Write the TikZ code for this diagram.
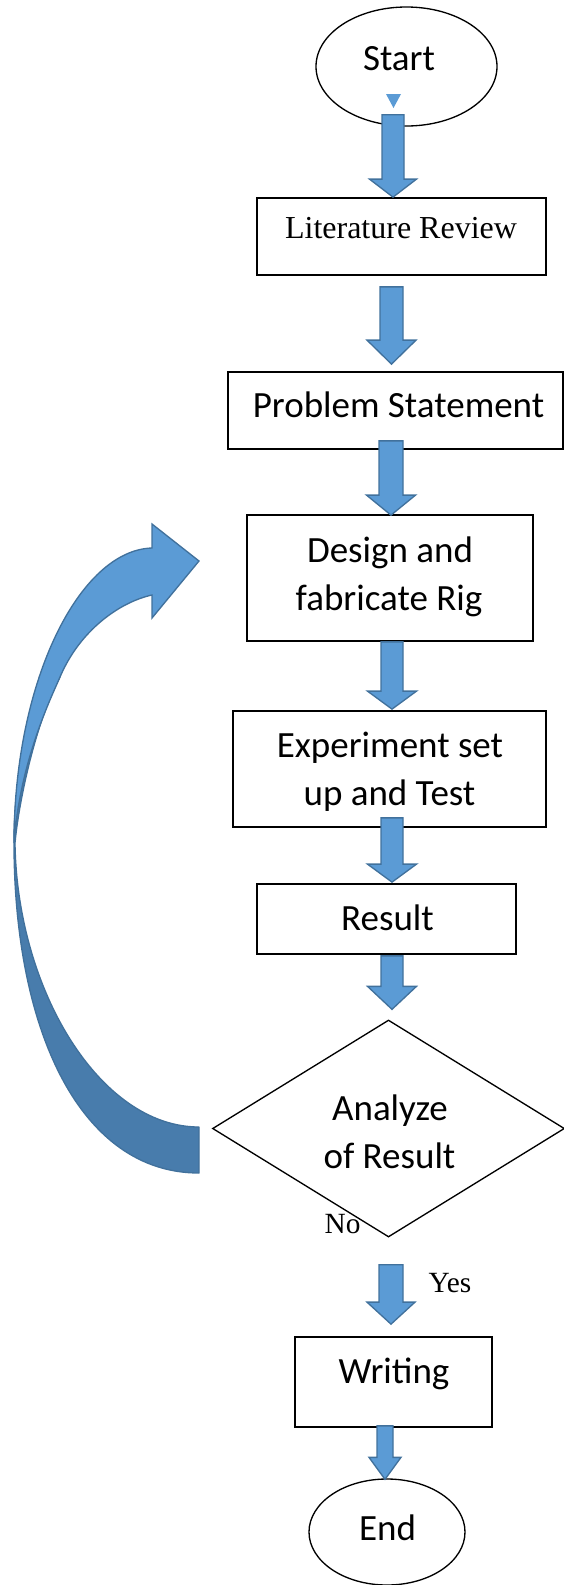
\documentclass[tikz,border=0pt]{standalone}
\usepackage{fontspec}
\setmainfont{Carlito}
\newfontfamily\serifface{Liberation Serif}
\usetikzlibrary{shapes.geometric,calc}

\definecolor{arrowfill}{RGB}{91,155,213}
\definecolor{arrowedge}{RGB}{65,113,156}
\definecolor{arrowback}{RGB}{72,124,172}

% one drawing unit = one pixel of the layout grid
\newcommand\pxu{0.75pt}

% vertical block arrow: #1 start point, #2 point whose height is the tip,
% #3 shaft half width, #4 head half width, #5 head length (all in pixels)
\newcommand\fatarrow[5]{%
  \path[blockarrow] let \p1=#1, \p2=#2 in
    ({\x1-#3*\pxu},\y1) -- ({\x1-#3*\pxu},{\y2+#5*\pxu})
    -- ({\x1-#4*\pxu},{\y2+#5*\pxu}) -- (\x1,\y2)
    -- ({\x1+#4*\pxu},{\y2+#5*\pxu}) -- ({\x1+#3*\pxu},{\y2+#5*\pxu})
    -- ({\x1+#3*\pxu},\y1) -- cycle;}

\begin{document}
\begin{tikzpicture}[x=0.75pt,y=-0.75pt,
  box/.style={draw=black, line width=1.3pt, rectangle, inner sep=0pt},
  terminal/.style={draw=black, line width=1pt, ellipse, inner sep=0pt},
  decision/.style={draw=black, line width=1pt, diamond, inner sep=0pt},
  flowtext/.style={font=\fontsize{27.75}{33}\selectfont, anchor=base, inner sep=0pt},
  seriftext/.style={font=\serifface\fontsize{24}{28}\selectfont, anchor=base, inner sep=0pt},
  branchtext/.style={font=\serifface\fontsize{22}{26}\selectfont, anchor=base, inner sep=0pt},
  blockarrow/.style={fill=arrowfill, draw=arrowedge, line width=1pt, line join=miter},
]
\useasboundingbox (0,0) rectangle (564,1585);

% ---------- shapes ----------
\node[terminal, minimum width=181*\pxu, minimum height=119*\pxu] (start) at (406.5,66.5) {};
\node[box, minimum width=289*\pxu, minimum height=77*\pxu]  (lit)    at (401.5,236.5) {};
\node[box, minimum width=335*\pxu, minimum height=77*\pxu]  (prob)   at (395.5,410.5) {};
\node[box, minimum width=286*\pxu, minimum height=126*\pxu] (design) at (390,578) {};
\node[box, minimum width=313*\pxu, minimum height=116*\pxu] (exper)  at (389.5,769) {};
\node[box, minimum width=259*\pxu, minimum height=70*\pxu]  (result) at (386.5,919) {};
\node[decision, minimum width=352*\pxu, minimum height=217*\pxu] (analyze) at (388.5,1128.5) {};
\node[box, minimum width=197*\pxu, minimum height=90*\pxu]  (writing) at (393.5,1382) {};
\node[terminal, minimum width=156*\pxu, minimum height=106*\pxu] (finish) at (387,1532) {};

% ---------- texts ----------
\node[flowtext]  (t-start)  at (399,70)    {Start};
\node[seriftext] (t-lit)    at (401,238)   {Literature Review};
\node[flowtext]  (t-prob)   at (398.5,417) {Problem Statement};
\node[flowtext]  (t-des1)   at (390,562)   {Design and};
\node[flowtext]  (t-des2)   at (389,610)   {fabricate Rig};
\node[flowtext]  (t-exp1)   at (390,757)   {Experiment set};
\node[flowtext]  (t-exp2)   at (389.5,805) {up and Test};
\node[flowtext]  (t-res)    at (387.5,930) {Result};
\node[flowtext]  (t-ana1)   at (390,1120)  {Analyze};
\node[flowtext]  (t-ana2)   at (389.5,1168) {of Result};
\node[flowtext]  (t-wri)    at (394,1383)  {Writing};
\node[flowtext]  (t-end)    at (387.5,1540) {End};
\node[branchtext] (t-no)    at (342.5,1233) {No};
\node[branchtext] (t-yes)   at (450,1292)  {Yes};

% small marker under the start text
\fill[arrowfill] (386,94) -- (401,94) -- (393.5,108) -- cycle;

% ---------- block arrows between the steps ----------
\fatarrow{($(start.south)+(-13.5,-12)$)}{(lit.north)}{11}{23.5}{18}
\fatarrow{($(lit.south)+(-10,11)$)}{($(prob.north)+(0,-7)$)}{11.5}{24.5}{24}
\fatarrow{($(prob.south)+(-4.5,-9)$)}{($(design.north)+(0,1)$)}{12}{24.5}{20}
\fatarrow{($(design.south)+(2,0)$)}{($(exper.north)+(0,-1)$)}{11}{24.5}{18}
\fatarrow{($(exper.south)+(2.5,-10)$)}{($(result.north)+(0,-1)$)}{11}{24.5}{18}
\fatarrow{($(result.south)+(5.5,1)$)}{($(analyze.north)+(0,-10)$)}{11}{24.5}{23}
\fatarrow{($(analyze.south)+(2.5,27)$)}{($(writing.north)+(0,-12)$)}{12}{24}{22}
\fatarrow{($(writing.south)+(-8.5,-2)$)}{($(finish.north)+(0,1)$)}{8}{16}{22}

% ---------- curved return arrow (No branch back to the design step) ----------
% rear, darker band
\path[fill=arrowback, draw=arrowedge, line width=1pt, line join=round]
  (60,677) .. controls (40,712) and (20,790) .. (15,843)
  .. controls (17,990) and (100,1127) .. (199,1127)
  -- (199,1173)
  .. controls (80,1173) and (14,1030) .. (14,843)
  .. controls (14,760) and (36,694) .. (60,677) -- cycle;
% front band with the arrow head
\path[fill=arrowfill, draw=arrowedge, line width=1pt, line join=miter]
  (152,548) .. controls (80,550) and (14,680) .. (14,843)
  .. controls (20,760) and (52,696) .. (60,677)
  .. controls (80,630) and (120,602) .. (152,595)
  -- (152,618) -- (199,561) -- (152,524) -- cycle;
\end{tikzpicture}
\end{document}
